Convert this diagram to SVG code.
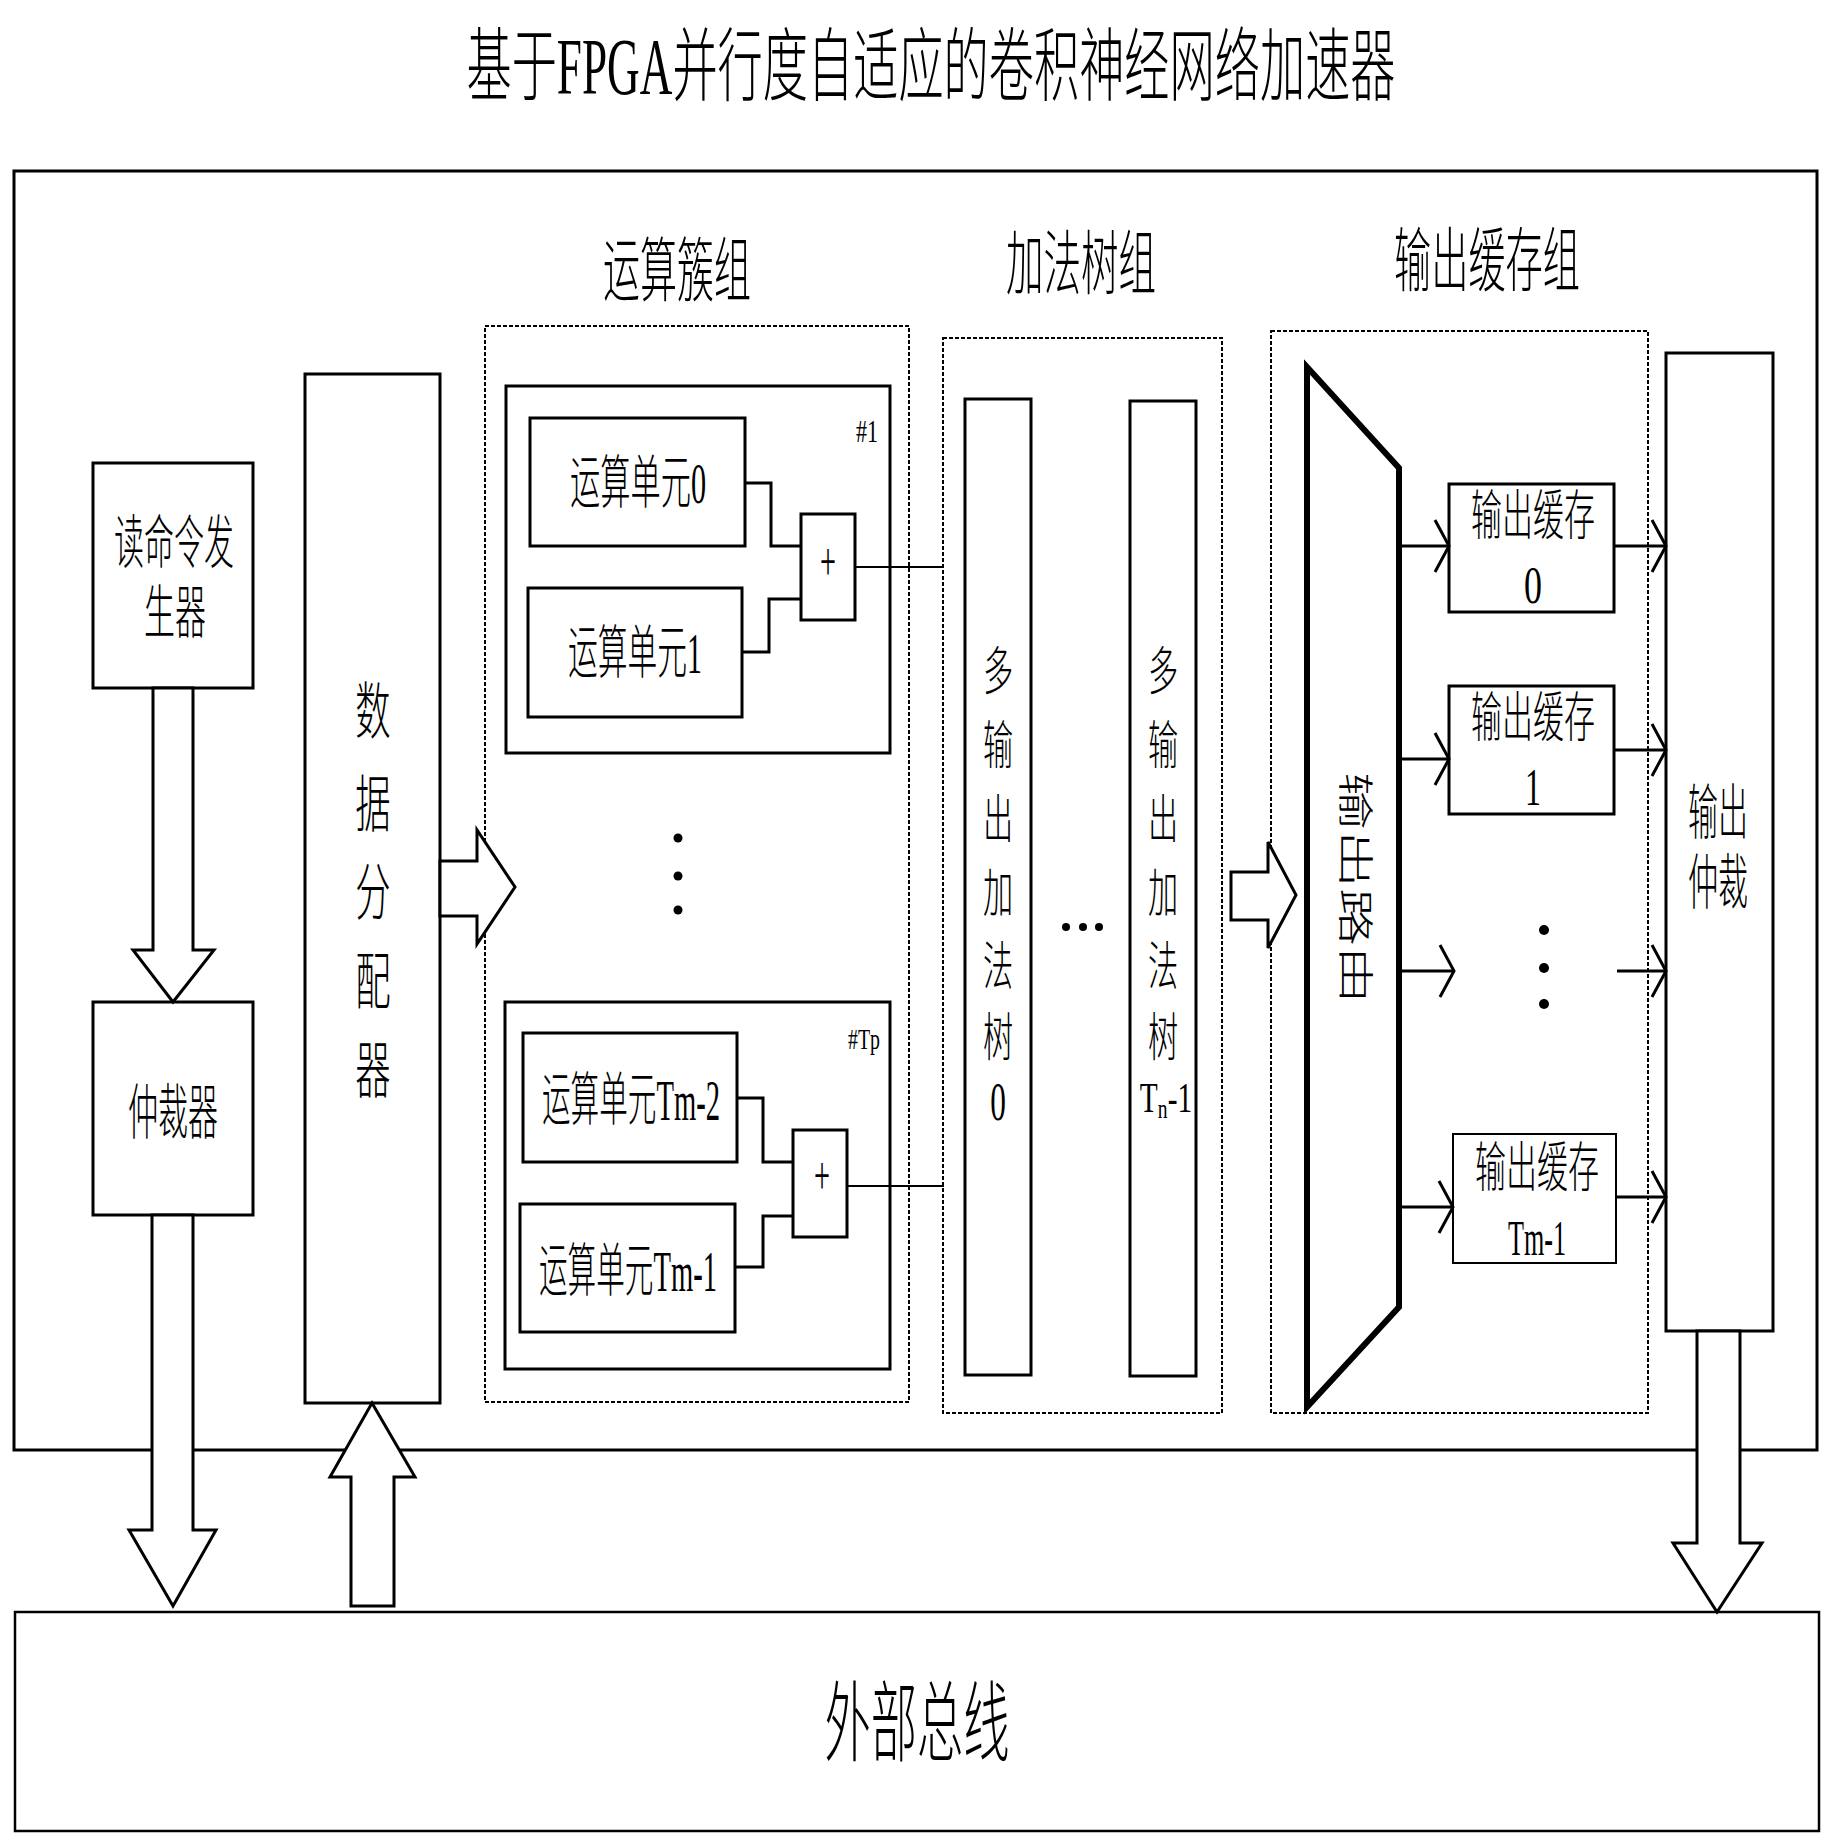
<svg xmlns="http://www.w3.org/2000/svg" width="1834" height="1846" viewBox="0 0 1834 1846">
<style>
.t{font-family:"Liberation Serif","Noto Sans CJK SC",serif;fill:#000;font-weight:300}
.box{fill:#fff;stroke:#000;stroke-width:3}
.thin{fill:#fff;stroke:#000;stroke-width:2}
.dash{fill:none;stroke:#000;stroke-width:2;stroke-dasharray:4 2}
.ha{fill:#fff;stroke:#000;stroke-width:3;stroke-linejoin:miter}
.w{fill:none;stroke:#000;stroke-width:3}
.w2{fill:none;stroke:#000;stroke-width:2}
.arr{fill:none;stroke:#000;stroke-width:3;marker-end:url(#chev)}
</style>
<defs>
<marker id="chev" markerUnits="userSpaceOnUse" viewBox="0 0 20 56" markerWidth="20" markerHeight="56" refX="15" refY="27" orient="auto" overflow="visible">
<path d="M1,1 L15,27 L1,53" fill="none" stroke="#000" stroke-width="3"/>
</marker>
</defs>
<rect width="1834" height="1846" fill="#fff"/>

<text class="t" x="0" y="0" font-size="80" text-anchor="middle" transform="translate(931,94) scale(0.565,1)">基于FPGA并行度自适应的卷积神经网络加速器</text>

<g id="accelerator">
<rect x="14" y="171" width="1803" height="1279" fill="none" stroke="#000" stroke-width="3"/>
</g>

<g id="external-bus">
<rect x="15" y="1612" width="1804" height="219" fill="#fff" stroke="#000" stroke-width="2.5"/>
<text class="t" x="917" y="1754" font-size="88" text-anchor="middle" textLength="185" lengthAdjust="spacingAndGlyphs">外部总线</text>
</g>

<g id="group-compute">
<rect class="dash" x="485" y="326" width="424" height="1076"/>
<text class="t" x="677" y="296" font-size="70" text-anchor="middle" textLength="148" lengthAdjust="spacingAndGlyphs">运算簇组</text>
</g>
<g id="group-addtree">
<rect class="dash" x="943" y="338" width="279" height="1075"/>
<text class="t" x="1081" y="289" font-size="70" text-anchor="middle" textLength="150" lengthAdjust="spacingAndGlyphs">加法树组</text>
</g>
<g id="group-outbuf">
<rect class="dash" x="1271" y="331" width="377" height="1082"/>
<text class="t" x="1487" y="286" font-size="70" text-anchor="middle" textLength="186" lengthAdjust="spacingAndGlyphs">输出缓存组</text>
</g>

<g id="read-cmd-gen">
<rect class="box" x="93" y="463" width="160" height="225"/>
<text class="t" x="174" y="563" font-size="58" text-anchor="middle" textLength="120" lengthAdjust="spacingAndGlyphs">读命令发</text>
<text class="t" x="175" y="633" font-size="58" text-anchor="middle" textLength="62" lengthAdjust="spacingAndGlyphs">生器</text>
</g>

<g id="arbiter">
<rect class="box" x="93" y="1002" width="160" height="213"/>
<text class="t" x="173" y="1134" font-size="60" text-anchor="middle" textLength="90" lengthAdjust="spacingAndGlyphs">仲裁器</text>
</g>

<g id="data-dist">
<rect class="box" x="305" y="374" width="135" height="1029"/>
<text class="t" font-size="62" text-anchor="middle" transform="translate(373,0) scale(0.57,1)"><tspan x="0" y="734">数</tspan><tspan x="0" y="827">据</tspan><tspan x="0" y="915">分</tspan><tspan x="0" y="1004">配</tspan><tspan x="0" y="1093">器</tspan></text>
</g>

<g id="cluster-1">
<rect class="box" x="506" y="386" width="384" height="367"/>
<text class="t" x="878" y="442" font-size="32" text-anchor="end" textLength="22" lengthAdjust="spacingAndGlyphs">#1</text>
</g>
<g id="pe-0">
<rect class="box" x="530" y="418" width="215" height="128"/>
<text class="t" x="638" y="503" font-size="58" text-anchor="middle" textLength="136" lengthAdjust="spacingAndGlyphs">运算单元0</text>
</g>
<g id="pe-1">
<rect class="box" x="528" y="588" width="214" height="129"/>
<text class="t" x="635" y="673" font-size="58" text-anchor="middle" textLength="134" lengthAdjust="spacingAndGlyphs">运算单元1</text>
</g>
<g id="adder-1">
<rect class="box" x="801" y="514" width="54" height="106"/>
<text class="t" x="828" y="580" font-size="54" text-anchor="middle" textLength="16" lengthAdjust="spacingAndGlyphs">+</text>
</g>

<g id="cluster-dots">
<circle cx="678" cy="838" r="4.5"/>
<circle cx="678" cy="876" r="4.5"/>
<circle cx="678" cy="910" r="4.5"/>
</g>

<g id="cluster-tp">
<rect class="box" x="505" y="1002" width="385" height="367"/>
<text class="t" x="880" y="1049" font-size="30" text-anchor="end" textLength="32" lengthAdjust="spacingAndGlyphs">#Tp</text>
</g>
<g id="pe-tm2">
<rect class="box" x="523" y="1033" width="214" height="129"/>
<text class="t" x="631" y="1120" font-size="58" text-anchor="middle" textLength="178" lengthAdjust="spacingAndGlyphs">运算单元Tm-2</text>
</g>
<g id="pe-tm1">
<rect class="box" x="520" y="1204" width="215" height="128"/>
<text class="t" x="628" y="1291" font-size="58" text-anchor="middle" textLength="178" lengthAdjust="spacingAndGlyphs">运算单元Tm-1</text>
</g>
<g id="adder-tp">
<rect class="box" x="793" y="1130" width="54" height="107"/>
<text class="t" x="822" y="1194" font-size="54" text-anchor="middle" textLength="16" lengthAdjust="spacingAndGlyphs">+</text>
</g>

<g id="tree-0">
<rect class="box" x="965" y="399" width="66" height="976"/>
<text class="t" font-size="52" text-anchor="middle" transform="translate(998,0) scale(0.58,1)"><tspan x="0" y="690">多</tspan><tspan x="0" y="764">输</tspan><tspan x="0" y="838">出</tspan><tspan x="0" y="912">加</tspan><tspan x="0" y="985">法</tspan><tspan x="0" y="1056">树</tspan><tspan x="0" y="1120" font-size="54">0</tspan></text>
</g>
<g id="tree-dots">
<circle cx="1066" cy="927" r="4"/>
<circle cx="1083" cy="927" r="4"/>
<circle cx="1099" cy="927" r="4"/>
</g>
<g id="tree-tn1">
<rect class="box" x="1130" y="401" width="66" height="975"/>
<text class="t" font-size="52" text-anchor="middle" transform="translate(1163,0) scale(0.58,1)"><tspan x="0" y="690">多</tspan><tspan x="0" y="764">输</tspan><tspan x="0" y="838">出</tspan><tspan x="0" y="912">加</tspan><tspan x="0" y="985">法</tspan><tspan x="0" y="1056">树</tspan></text>
<text class="t" x="0" y="0" font-size="42" text-anchor="middle" transform="translate(1166,1112) scale(0.7,1)">T<tspan font-size="28" dy="6">n</tspan><tspan dy="-6">-1</tspan></text>
</g>

<g id="router">
<path d="M1307,367 L1399,468 L1399,1307 L1307,1407 Z" fill="#fff" stroke="#000" stroke-width="6" stroke-linejoin="miter"/>
<text class="t" x="1354" y="888" font-size="36" text-anchor="middle" dominant-baseline="central" textLength="232" lengthAdjust="spacingAndGlyphs" transform="rotate(90 1354 888)">输出路由</text>
</g>

<g id="outbuf-0">
<rect class="box" x="1449" y="484" width="165" height="128"/>
<text class="t" x="1533" y="535" font-size="54" text-anchor="middle" textLength="124" lengthAdjust="spacingAndGlyphs">输出缓存</text>
<text class="t" x="1533" y="603" font-size="52" text-anchor="middle" textLength="18" lengthAdjust="spacingAndGlyphs">0</text>
</g>
<g id="outbuf-1">
<rect class="box" x="1449" y="686" width="165" height="128"/>
<text class="t" x="1533" y="737" font-size="54" text-anchor="middle" textLength="124" lengthAdjust="spacingAndGlyphs">输出缓存</text>
<text class="t" x="1533" y="805" font-size="52" text-anchor="middle" textLength="16" lengthAdjust="spacingAndGlyphs">1</text>
</g>
<g id="outbuf-dots">
<circle cx="1544" cy="930" r="5"/>
<circle cx="1544" cy="968" r="5"/>
<circle cx="1544" cy="1004" r="5"/>
</g>
<g id="outbuf-tm1">
<rect class="thin" x="1453" y="1134" width="163" height="129"/>
<text class="t" x="1537" y="1187" font-size="54" text-anchor="middle" textLength="124" lengthAdjust="spacingAndGlyphs">输出缓存</text>
<text class="t" x="1537" y="1255" font-size="50" text-anchor="middle" textLength="58" lengthAdjust="spacingAndGlyphs">Tm-1</text>
</g>

<g id="out-arbiter">
<rect class="box" x="1666" y="353" width="107" height="978"/>
<text class="t" x="1718" y="834" font-size="60" text-anchor="middle" textLength="60" lengthAdjust="spacingAndGlyphs">输出</text>
<text class="t" x="1718" y="904" font-size="60" text-anchor="middle" textLength="60" lengthAdjust="spacingAndGlyphs">仲裁</text>
</g>

<g id="connectors">
<polygon class="ha" points="153,688 193,688 193,950 214,950 173,1002 133,950 153,950"/>
<polygon class="ha" points="152,1215 193,1215 193,1530 216,1530 173,1606 129,1530 152,1530"/>
<polygon class="ha" points="372,1403 415,1477 394,1477 394,1606 351,1606 351,1477 330,1477"/>
<polygon class="ha" points="440,861 477,861 477,830 515,887 477,944 477,916 440,916"/>
<polygon class="ha" points="1231,872 1268,872 1268,842 1296,895 1268,948 1268,920 1231,920"/>
<polygon class="ha" points="1697,1331 1740,1331 1740,1543 1762,1543 1717,1612 1673,1543 1697,1543"/>
<polyline class="w" points="745,483 771,483 771,546 801,546"/>
<polyline class="w" points="742,652 769,652 769,599 801,599"/>
<polyline class="w" points="737,1098 763,1098 763,1162 793,1162"/>
<polyline class="w" points="735,1267 763,1267 763,1216 793,1216"/>
<line class="w2" x1="855" y1="567" x2="944" y2="567"/>
<line class="w2" x1="847" y1="1186" x2="944" y2="1186"/>
<line class="arr" x1="1399" y1="546" x2="1449" y2="546"/>
<line class="arr" x1="1399" y1="759" x2="1449" y2="759"/>
<line class="arr" x1="1399" y1="971" x2="1454" y2="971"/>
<line class="arr" x1="1399" y1="1207" x2="1453" y2="1207"/>
<line class="arr" x1="1614" y1="546" x2="1666" y2="546"/>
<line class="arr" x1="1614" y1="750" x2="1666" y2="750"/>
<line class="arr" x1="1617" y1="971" x2="1666" y2="971"/>
<line class="arr" x1="1616" y1="1197" x2="1666" y2="1197"/>
</g>
</svg>
